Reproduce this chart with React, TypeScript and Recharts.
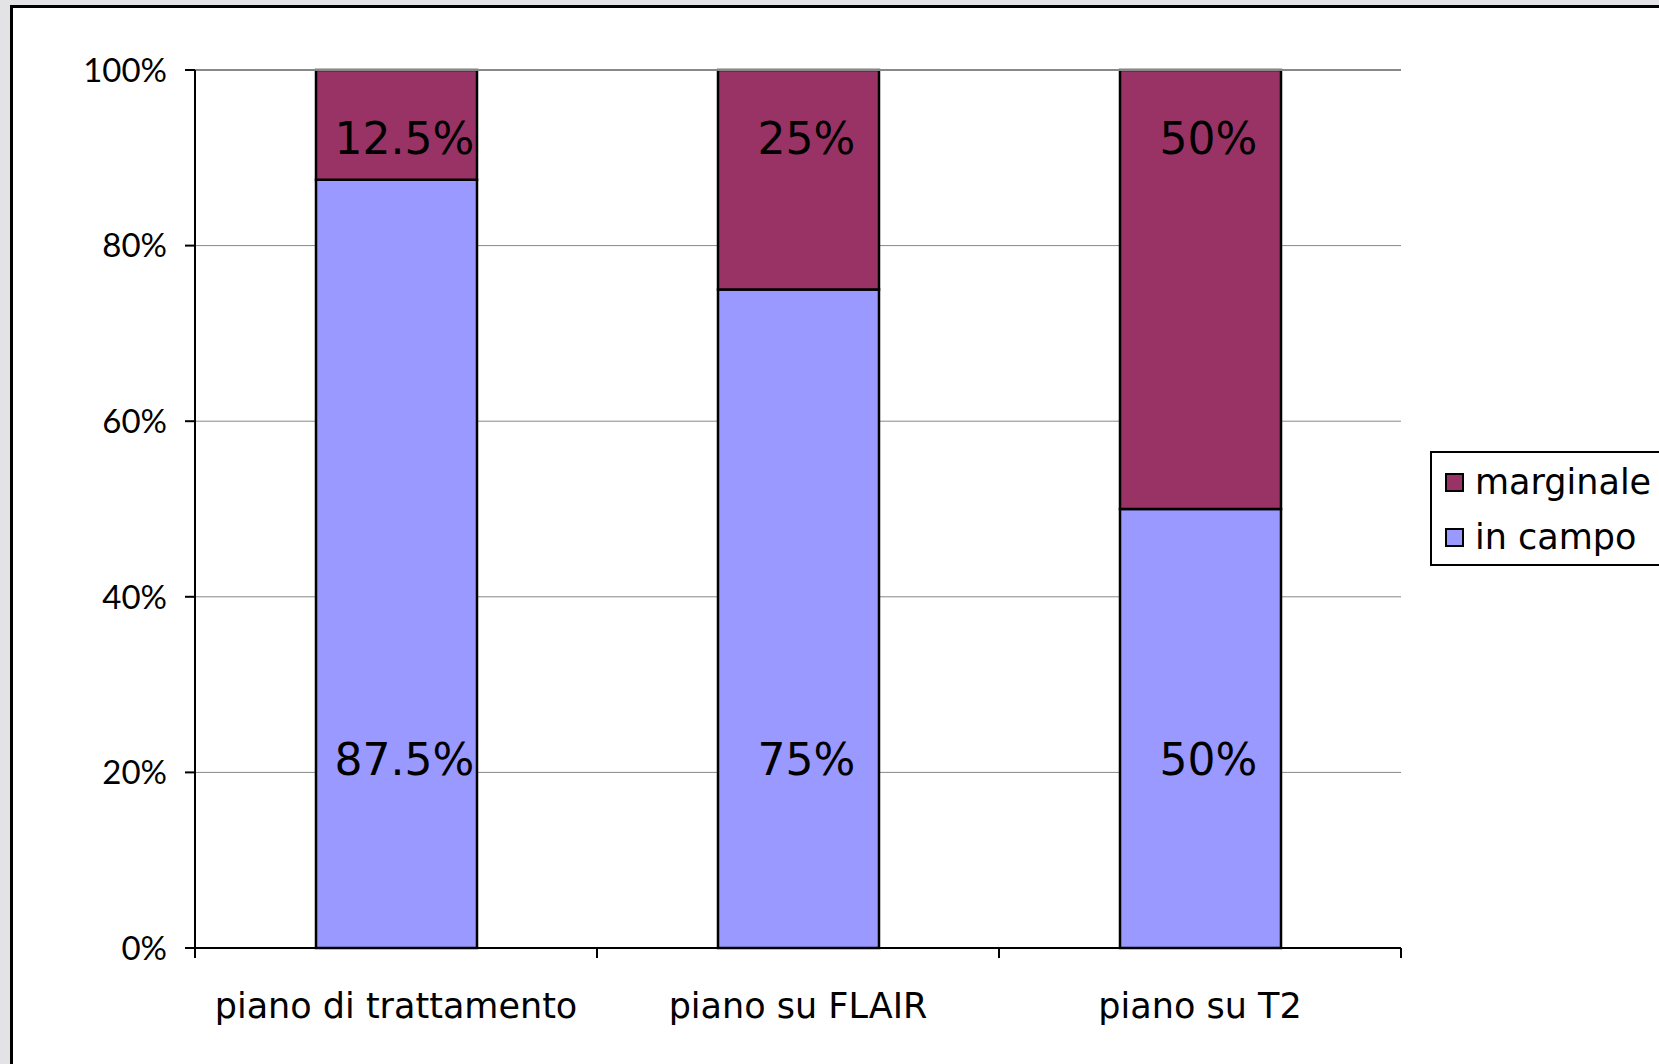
import React from "react";
import { BarChart, Bar, XAxis, YAxis, CartesianGrid, Legend, LabelList, ReferenceLine } from "recharts";

const categories = ["piano di trattamento", "piano su FLAIR", "piano su T2"];
const inCampo = [87.5, 75, 50];
const marginale = [12.5, 25, 50];
const yTicks = [0, 20, 40, 60, 80, 100];

const data = categories.map((name, i) => ({
  name,
  inCampo: inCampo[i],
  marginale: marginale[i],
}));

const numFont = "Lato, sans-serif";
const textFont = "'DejaVu Sans', sans-serif";
const labelFont = "'DejaVu Sans', sans-serif";

const PLOT_LEFT = 195;
const PLOT_RIGHT = 1401;
const BAND = (PLOT_RIGHT - PLOT_LEFT) / categories.length;

const XTick = (props: any) => {
  const { x, y, payload, index } = props;
  const left = x - BAND / 2;
  const right = x + BAND / 2;
  return (
    <g>
      <line x1={left} x2={left} y1={y} y2={y + 10} stroke="#000" strokeWidth={2} />
      {index === categories.length - 1 && (
        <line x1={right} x2={right} y1={y} y2={y + 10} stroke="#000" strokeWidth={2} />
      )}
      <text x={x} y={y + 70} textAnchor="middle" fontFamily={textFont} fontSize={35} fill="#000">
        {payload.value}
      </text>
    </g>
  );
};

// labels sit at fixed distances from the bar ends, like the original
const TopLabel = (props: any) => {
  const { x, y, width, value } = props;
  return (
    <text x={x + width / 2 + 8} y={y + 68} textAnchor="middle" dominantBaseline="central"
      fontFamily={labelFont} fontSize={44} fill="#000">
      {value}%
    </text>
  );
};

const BottomLabel = (props: any) => {
  const { x, y, width, height, value } = props;
  return (
    <text x={x + width / 2 + 8} y={y + height - 189} textAnchor="middle" dominantBaseline="central"
      fontFamily={labelFont} fontSize={44} fill="#000">
      {value}%
    </text>
  );
};

const LegendBox = (props: any) => {
  const items = [...(props.payload || [])].reverse();
  return (
    <div style={{ border: "2px solid #000", background: "#fff", width: 260, paddingLeft: 13, paddingTop: 2, height: 115, boxSizing: "border-box" }}>
      {items.map((it: any) => (
        <div key={it.value} style={{ display: "flex", alignItems: "center", height: 55 }}>
          <div style={{ width: 19, height: 19, boxSizing: "border-box", border: "2px solid #000", background: it.color }} />
          <span style={{ marginLeft: 11, fontFamily: textFont, fontSize: 35, color: "#000", lineHeight: "55px" }}>
            {it.value}
          </span>
        </div>
      ))}
    </div>
  );
};

export default function App() {
  return (
    <div style={{ position: "absolute", left: 0, top: 0, width: 1659, height: 1064, overflow: "hidden", background: "#e3e3e6" }}>
      <div style={{ position: "absolute", left: 10, top: 5, width: 1720, height: 1120, border: "3px solid #000", background: "#fff" }} />
      <div style={{ position: "absolute", left: 0, top: 0 }}>
        <BarChart width={1659} height={1064} data={data} barSize={161}
          margin={{ top: 70, right: 258, bottom: 0, left: 0 }}>
          <CartesianGrid vertical={false} stroke="#888" strokeWidth={1} yAxisId="left" />
          <XAxis dataKey="name" height={116} axisLine={{ stroke: "#000", strokeWidth: 2 }}
            tickLine={false} tickSize={0} tickMargin={0} tick={<XTick />} interval={0} />
          <YAxis yAxisId="left" width={195} domain={[0, 100]} ticks={yTicks}
            tickFormatter={(v: number) => `${v}%`} tickSize={10} tickMargin={18}
            axisLine={{ stroke: "#000", strokeWidth: 2 }} tickLine={{ stroke: "#000", strokeWidth: 2 }}
            tick={{ fill: "#000", fontFamily: numFont, fontSize: 33 }} />
          <YAxis yAxisId="right" orientation="right" width={0} domain={[0, 100]} tick={false}
            tickLine={false} axisLine={{ stroke: "#888", strokeWidth: 2 }} />
          <ReferenceLine yAxisId="left" y={100} stroke="#888" strokeWidth={2} />
          <Legend layout="horizontal" align="center" verticalAlign="middle" content={<LegendBox />}
            wrapperStyle={{ left: 1430, top: 451, width: 280 }} />
          <Bar yAxisId="left" dataKey="inCampo" name="in campo" stackId="s" fill="#9999FF"
            stroke="#000" strokeWidth={2.5} isAnimationActive={false}>
            <LabelList dataKey="inCampo" content={<BottomLabel />} />
          </Bar>
          <Bar yAxisId="left" dataKey="marginale" name="marginale" stackId="s" fill="#993366"
            stroke="#000" strokeWidth={2.5} isAnimationActive={false}>
            <LabelList dataKey="marginale" content={<TopLabel />} />
          </Bar>
        </BarChart>
      </div>
    </div>
  );
}
